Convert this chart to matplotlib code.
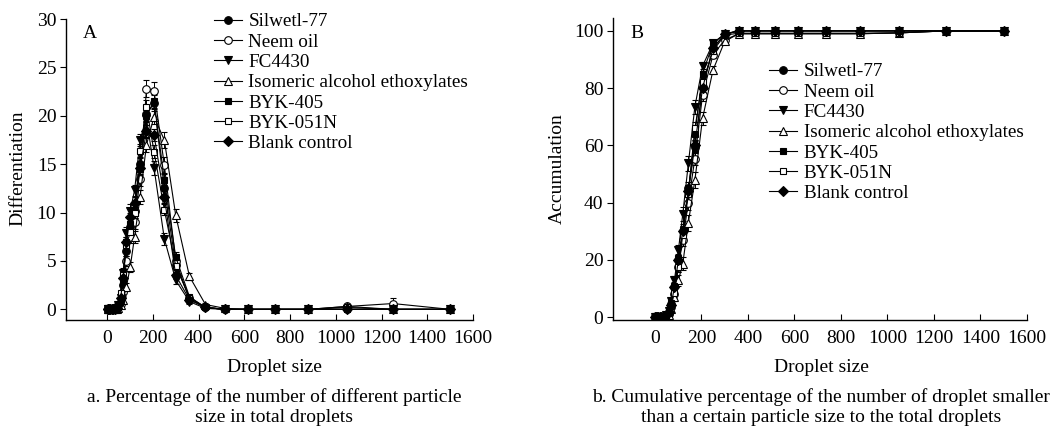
import matplotlib
matplotlib.use("Agg")
import matplotlib.pyplot as plt

plt.rcParams["font.family"] = ["Liberation Serif", "DejaVu Serif"]

# droplet size classes (x) shared by every series
sizes = [2, 5, 9, 14, 20, 27, 34, 41, 49, 59, 70, 84, 101, 120, 144, 172,
         205, 250, 300, 360, 430, 515, 615, 735, 880, 1050, 1250, 1500]

labels = ["Silwetl-77", "Neem oil", "FC4430", "Isomeric alcohol ethoxylates",
          "BYK-405", "BYK-051N", "Blank control"]

# panel A: differential percentage
diff_silwetl = [0, 0, 0, 0, 0, 0, 0, 0.1, 0.3, 0.8, 2.5, 6.0, 8.5, 10.2, 15.0, 20.2,
                21.3, 12.5, 4.6, 1.2, 0.2, 0, 0, 0, 0, 0, 0, 0]
diff_neem = [0, 0, 0, 0, 0, 0, 0, 0.1, 0.2, 0.6, 1.8, 5.0, 7.5, 9.0, 13.5, 22.8,
             22.6, 14.9, 5.0, 1.0, 0.2, 0, 0, 0, 0, 0.3, 0.6, 0]
diff_fc = [0, 0, 0, 0, 0, 0, 0, 0.1, 0.4, 1.2, 3.8, 7.9, 10.2, 12.3, 17.5, 19.7,
           14.6, 7.3, 3.0, 0.8, 0.1, 0, 0, 0, 0, 0, 0, 0]
diff_iso = [0, 0, 0, 0, 0, 0, 0, 0, 0.1, 0.4, 1.0, 2.3, 4.4, 7.5, 11.6, 17.0,
            19.9, 17.5, 9.7, 3.4, 0.5, 0.1, 0, 0, 0, 0.3, 0, 0]
diff_byk405 = [0, 0, 0, 0, 0, 0, 0, 0.1, 0.3, 1.0, 3.0, 7.0, 8.8, 10.0, 14.5, 20.0,
               21.5, 13.4, 5.4, 1.3, 0.2, 0, 0, 0, 0, 0, 0, 0]
diff_byk051 = [0, 0, 0, 0, 0, 0, 0, 0.1, 0.3, 1.7, 3.5, 6.6, 8.0, 10.0, 16.4, 20.9,
               16.3, 10.3, 4.5, 1.2, 0.2, 0, 0, 0, 0, 0.2, 0, 0]
diff_blank = [0, 0, 0, 0, 0, 0, 0, 0.1, 0.4, 1.2, 3.2, 7.0, 9.5, 11.0, 14.6, 18.4,
              18.0, 11.6, 3.5, 1.0, 0.2, 0, 0, 0, 0, 0, 0, 0]

diff_err_silwetl = [0, 0, 0, 0, 0, 0, 0, 0, 0.1, 0.2, 0.4, 0.5, 0.6, 0.6, 0.6, 0.7,
                    0.8, 0.7, 0.5, 0.3, 0.1, 0, 0, 0, 0, 0, 0, 0]
diff_err_neem = [0, 0, 0, 0, 0, 0, 0, 0, 0.1, 0.2, 0.4, 0.5, 0.6, 0.7, 0.8, 0.9,
                 0.9, 0.8, 0.5, 0.3, 0.1, 0, 0, 0, 0, 0.3, 0.6, 0]
diff_err_fc = [0, 0, 0, 0, 0, 0, 0, 0, 0.1, 0.3, 0.5, 0.6, 0.7, 0.6, 0.6, 0.7,
               0.7, 0.6, 0.4, 0.2, 0.1, 0, 0, 0, 0, 0, 0, 0]
diff_err_iso = [0, 0, 0, 0, 0, 0, 0, 0, 0.1, 0.2, 0.3, 0.4, 0.5, 0.6, 0.7, 0.7,
                0.8, 0.8, 0.7, 0.4, 0.2, 0, 0, 0, 0, 0.2, 0, 0]
diff_err_byk405 = [0, 0, 0, 0, 0, 0, 0, 0, 0.1, 0.2, 0.4, 0.5, 0.5, 0.6, 0.6, 0.6,
                   0.7, 0.6, 0.5, 0.2, 0.1, 0, 0, 0, 0, 0, 0, 0]
diff_err_byk051 = [0, 0, 0, 0, 0, 0, 0, 0, 0.1, 0.2, 0.4, 0.5, 0.6, 0.6, 0.7, 0.7,
                   0.7, 0.6, 0.4, 0.2, 0.1, 0, 0, 0, 0, 0.2, 0, 0]
diff_err_blank = [0, 0, 0, 0, 0, 0, 0, 0, 0.1, 0.2, 0.4, 0.5, 0.5, 0.6, 0.6, 0.6,
                  0.6, 0.6, 0.4, 0.2, 0.1, 0, 0, 0, 0, 0, 0, 0]

# panel B: cumulative percentage
cum_silwetl = [0, 0, 0, 0, 0, 0, 0, 0.2, 0.6, 1.6, 4.5, 10.5, 19.8, 30.0, 45.0, 59.5,
               80.5, 94.0, 98.8, 100, 100, 100, 100, 100, 100, 100, 100, 100]
cum_neem = [0, 0, 0, 0, 0, 0, 0, 0.1, 0.4, 1.2, 3.5, 8.2, 17.5, 27.0, 40.0, 55.4,
            77.6, 91.6, 96.8, 99.0, 99.0, 99.0, 99.0, 99.0, 99.0, 99.3, 100, 100]
cum_fc = [0, 0, 0, 0, 0, 0, 0, 0.2, 0.8, 2.2, 5.8, 12.8, 23.3, 36.0, 53.7, 73.5,
          87.7, 95.7, 98.8, 100, 100, 100, 100, 100, 100, 100, 100, 100]
cum_iso = [0, 0, 0, 0, 0, 0, 0, 0.1, 0.3, 0.9, 2.8, 7.0, 12.8, 18.7, 33.0, 47.8,
           69.4, 86.3, 96.3, 99.0, 99.0, 99.0, 99.0, 99.0, 99.0, 99.3, 100, 100]
cum_byk405 = [0, 0, 0, 0, 0, 0, 0, 0.2, 0.7, 1.9, 4.8, 11.0, 20.5, 30.5, 44.0, 64.0,
              85.0, 95.7, 99.0, 100, 100, 100, 100, 100, 100, 100, 100, 100]
cum_byk051 = [0, 0, 0, 0, 0, 0, 0, 0.1, 0.5, 1.4, 3.8, 8.5, 17.5, 28.6, 43.0, 66.0,
              82.0, 93.0, 98.5, 99.2, 99.2, 99.2, 99.2, 99.2, 99.2, 99.3, 100, 100]
cum_blank = [0, 0, 0, 0, 0, 0, 0, 0.2, 0.6, 1.7, 4.2, 10.5, 19.8, 30.0, 44.0, 60.0,
             80.0, 94.0, 98.8, 100, 100, 100, 100, 100, 100, 100, 100, 100]

cum_err_silwetl = [0, 0, 0, 0, 0, 0, 0, 0, 0.2, 0.4, 0.8, 1.2, 1.6, 2.0, 2.2, 2.2,
                   1.8, 1.0, 0.5, 0.2, 0, 0, 0, 0, 0, 0, 0, 0]
cum_err_neem = [0, 0, 0, 0, 0, 0, 0, 0, 0.2, 0.4, 0.8, 1.4, 1.8, 2.2, 2.6, 2.4,
                2.0, 1.2, 0.6, 0.3, 0.2, 0.2, 0.2, 0.2, 0.2, 0.3, 0, 0]
cum_err_fc = [0, 0, 0, 0, 0, 0, 0, 0, 0.2, 0.5, 1.0, 1.4, 1.8, 2.4, 2.6, 2.4,
              1.6, 0.8, 0.4, 0.2, 0, 0, 0, 0, 0, 0, 0, 0]
cum_err_iso = [0, 0, 0, 0, 0, 0, 0, 0, 0.2, 0.4, 0.8, 1.2, 1.8, 2.4, 2.8, 2.8,
               2.4, 1.4, 0.8, 0.3, 0.2, 0.2, 0.2, 0.2, 0.2, 0.3, 0, 0]
cum_err_byk405 = [0, 0, 0, 0, 0, 0, 0, 0, 0.2, 0.4, 0.8, 1.2, 1.6, 2.0, 2.2, 2.0,
                  1.6, 0.8, 0.4, 0.2, 0, 0, 0, 0, 0, 0, 0, 0]
cum_err_byk051 = [0, 0, 0, 0, 0, 0, 0, 0, 0.2, 0.4, 0.8, 1.2, 1.6, 2.2, 2.4, 2.2,
                  1.8, 1.0, 0.5, 0.2, 0.2, 0.2, 0.2, 0.2, 0.2, 0.3, 0, 0]
cum_err_blank = [0, 0, 0, 0, 0, 0, 0, 0, 0.2, 0.4, 0.8, 1.2, 1.6, 2.0, 2.2, 2.0,
                 1.6, 0.8, 0.4, 0.2, 0, 0, 0, 0, 0, 0, 0, 0]

diff_series = [diff_silwetl, diff_neem, diff_fc, diff_iso, diff_byk405, diff_byk051, diff_blank]
diff_errs = [diff_err_silwetl, diff_err_neem, diff_err_fc, diff_err_iso,
             diff_err_byk405, diff_err_byk051, diff_err_blank]
cum_series = [cum_silwetl, cum_neem, cum_fc, cum_iso, cum_byk405, cum_byk051, cum_blank]
cum_errs = [cum_err_silwetl, cum_err_neem, cum_err_fc, cum_err_iso,
            cum_err_byk405, cum_err_byk051, cum_err_blank]

# marker, face colour, size
styles = [("o", "black", 5.5), ("o", "white", 5.5), ("v", "black", 6.0),
          ("^", "white", 6.0), ("s", "black", 5.0), ("s", "white", 5.0),
          ("D", "black", 4.6)]

W, H = 1056, 434
FS = 14


def px(x, y):
    return x / W, 1 - y / H


def draw_panel(ax, series, errs):
    handles = []
    for lab, ys, es, (mk, fc, ms) in zip(labels, series, errs, styles):
        cont = ax.errorbar(sizes, ys, yerr=es, color="black", lw=0.8, elinewidth=0.7,
                           capsize=2.5, capthick=0.7, marker=mk, mfc=fc, mec="black",
                           mew=0.8, ms=ms, label=lab)
        handles.append(cont.lines[0])  # legend shows line + marker only
    for s in ("top", "right"):
        ax.spines[s].set_visible(False)
    for s in ("left", "bottom"):
        ax.spines[s].set_linewidth(1.0)
    ax.set_xlim(-180, 1600)
    ax.set_xticks(range(0, 1601, 200))
    ax.tick_params(axis="x", direction="in", length=4, width=0.8, pad=7, labelsize=FS)
    ax.tick_params(axis="y", direction="out", length=4, width=0.8, pad=3, labelsize=FS)
    return handles


fig = plt.figure(figsize=(W / 100, H / 100), dpi=100)
fig.patch.set_facecolor("white")

ax1 = fig.add_axes([66 / W, 1 - 320 / H, (473 - 66) / W, (320 - 19) / H])
h1 = draw_panel(ax1, diff_series, diff_errs)
ax1.set_ylim(-1.1, 30)
ax1.set_yticks(range(0, 31, 5))

ax2 = fig.add_axes([613 / W, 1 - 320 / H, (1027 - 613) / W, (320 - 18) / H])
h2 = draw_panel(ax2, cum_series, cum_errs)
ax2.set_ylim(-1.0, 104.5)
ax2.set_yticks(range(0, 101, 20))

leg_kw = dict(loc="upper left", frameon=False, fontsize=13.8, labelspacing=0.15,
              handlelength=1.45, handletextpad=0.35, borderpad=0, borderaxespad=0,
              numpoints=1, bbox_transform=fig.transFigure)
ax1.legend(h1, labels, bbox_to_anchor=px(214, 13), **leg_kw)
ax2.legend(h2, labels, bbox_to_anchor=px(769, 63), **leg_kw)

fig.text(*px(83, 33), "A", fontsize=FS, va="center", ha="left")
fig.text(*px(630, 33), "B", fontsize=FS, va="center", ha="left")

fig.text(*px(18, 168), "Differentiation", fontsize=FS, rotation=90, ha="center", va="center")
fig.text(*px(557, 169), "Accumulation", fontsize=FS, rotation=90, ha="center", va="center")

fig.text(*px(274, 367), "Droplet size", fontsize=FS, ha="center", va="center")
fig.text(*px(821, 367), "Droplet size", fontsize=FS, ha="center", va="center")

fig.text(*px(274, 397), "a. Percentage of the number of different particle",
         fontsize=FS, ha="center", va="center")
fig.text(*px(274, 417), "size in total droplets", fontsize=FS, ha="center", va="center")
fig.text(*px(821, 397), "b. Cumulative percentage of the number of droplet smaller",
         fontsize=FS, ha="center", va="center")
fig.text(*px(821, 417), "than a certain particle size to the total droplets",
         fontsize=FS, ha="center", va="center")

fig.savefig("out.png", dpi=100)
